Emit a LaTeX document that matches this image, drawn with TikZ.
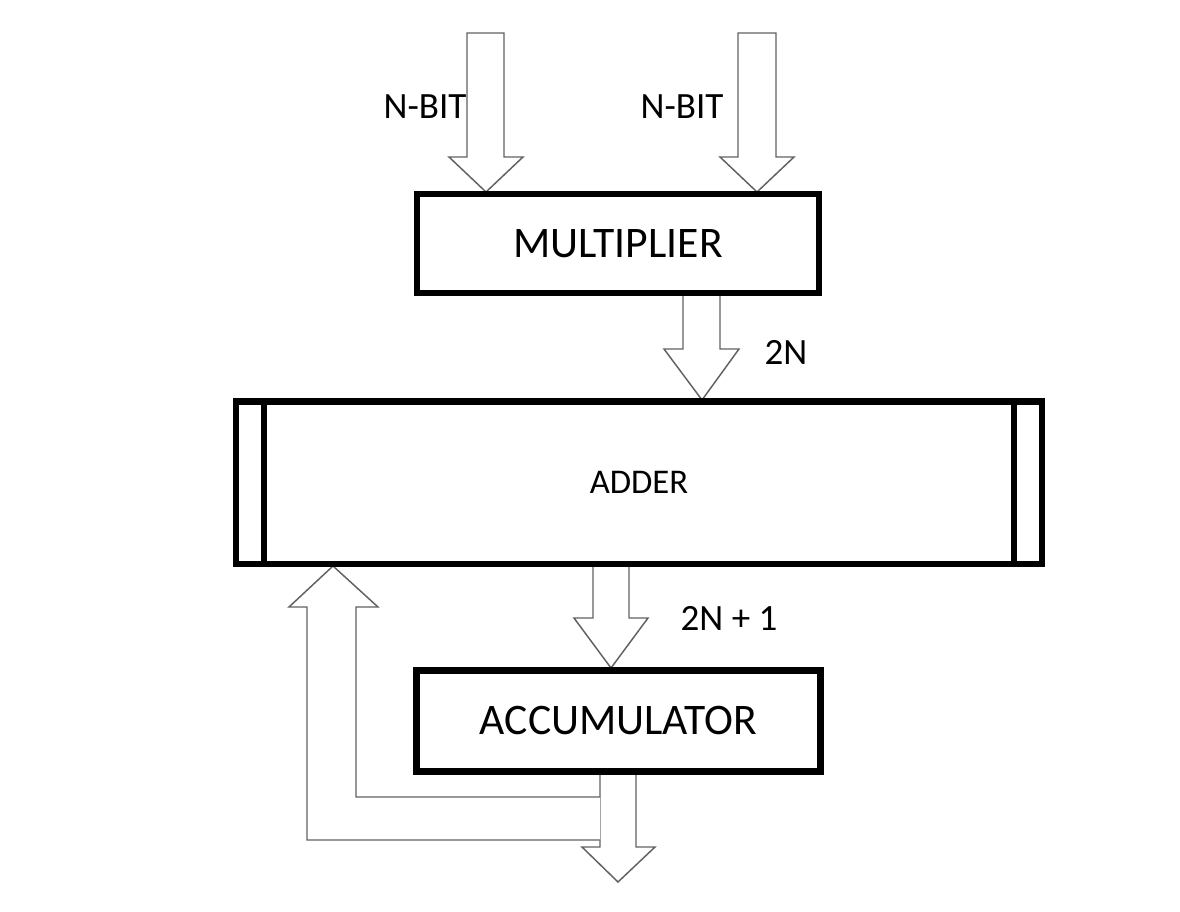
\documentclass[tikz,border=0pt]{standalone}
\usepackage{fontspec}
\setmainfont{Carlito}
\begin{document}
\begin{tikzpicture}[x=0.75pt,y=-0.75pt,
  boxst/.style={draw=black,line width=4.6pt,fill=white,inner sep=0pt,outer sep=0pt,font=\fontsize{32.7}{36}\selectfont},
  barrow/.style={draw=black!62,line width=1.1pt,fill=white,line join=miter},
  lbl/.style={inner sep=0pt,font=\fontsize{27.8}{30}\selectfont}]
\useasboundingbox (0,0) rectangle (1180,912);
% tips of the block arrows
\coordinate (tA) at (486,192);
\coordinate (tB) at (757,192);
\coordinate (tC) at (702,400);
\coordinate (tD) at (611,668);
\coordinate (tE) at (618,882);
\coordinate (tF) at (333,566);
% input arrows
\draw[barrow] (tA) ++(-19,-159) -- ++(37,0) -- ++(0,124) -- ++(19,0) -- (tA) -- ++(-37,-35) -- ++(18,0) -- cycle;
\draw[barrow] (tB) ++(-19,-159) -- ++(38,0) -- ++(0,124) -- ++(18,0) -- (tB) -- ++(-37,-35) -- ++(18,0) -- cycle;
% 2N arrow
\draw[barrow] (tC) ++(-19,-108) -- ++(37,0) -- ++(0,57) -- ++(19,0) -- (tC) -- ++(-38,-51) -- ++(19,0) -- cycle;
% 2N+1 arrow
\draw[barrow] (tD) ++(-18,-105) -- ++(36,0) -- ++(0,55) -- ++(19,0) -- (tD) -- ++(-37,-50) -- ++(19,0) -- cycle;
% output arrow
\draw[barrow] (tE) ++(-18,-112) -- ++(36,0) -- ++(0,77) -- ++(19,0) -- (tE) -- ++(-36,-35) -- ++(18,0) -- cycle;
% feedback arrow
\coordinate (fo) at (600,840);
\coordinate (fi) at (600,797);
\draw[barrow] (fo) -- (307,840) -- (307,607) -- (289,607) -- (tF) -- (378,607) -- (356,607) -- (356,797) -- (fi);
% boxes
\node[boxst,minimum width=301.5pt,minimum height=74.25pt] (mult) at (618,243.5) {MULTIPLIER};
\node[boxst,minimum width=604.5pt,minimum height=121.9pt,font=\fontsize{26}{30}\selectfont] (adder) at (639,482.75) {ADDER};
\draw[line width=4.6pt] (264,401.5) -- (264,564) (1014,401.5) -- (1014,564);
\node[boxst,minimum width=303pt,minimum height=75.75pt] (acc) at (618.5,721) {ACCUMULATOR};
% labels
\node[lbl] (l1) at (425,107) {N-BIT};
\node[lbl] (l2) at (682,107) {N-BIT};
\node[lbl] (l3) at (786,352) {2N};
\node[lbl] (l4) at (729,618) {2N + 1};
\end{tikzpicture}
\end{document}
